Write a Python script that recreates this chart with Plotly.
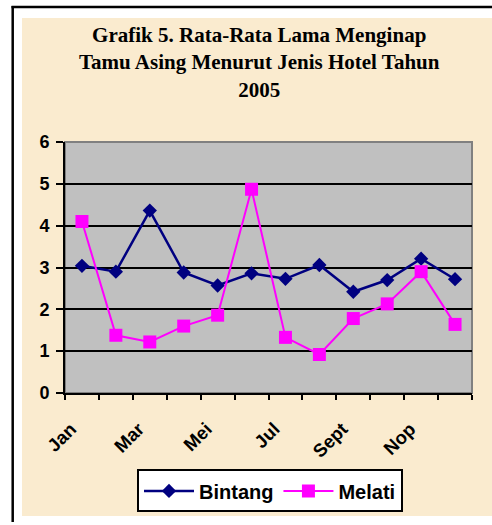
import plotly.graph_objects as go

months = ["Jan", "Feb", "Mar", "Apr", "Mei", "Jun", "Jul", "Agust", "Sept", "Okt", "Nop", "Des"]
bintang = [3.04, 2.90, 4.36, 2.88, 2.57, 2.86, 2.73, 3.06, 2.42, 2.70, 3.21, 2.72]
melati = [4.10, 1.38, 1.22, 1.60, 1.86, 4.87, 1.33, 0.92, 1.78, 2.13, 2.90, 1.64]
yticks = [0, 1, 2, 3, 4, 5, 6]
title_text = "Grafik 5. Rata-Rata Lama Menginap<br>Tamu Asing Menurut Jenis Hotel Tahun<br>2005"

W, H = 492, 525
L, R, T, B = 65, 472, 142, 395  # plot area in pixels
pw, ph = R - L, B - T

def px(x):
    return (x - L) / pw

def py(y):
    return (B - y) / ph

fig = go.Figure()
fig.add_trace(go.Scatter(
    x=months, y=bintang, name="Bintang", mode="lines+markers",
    line=dict(color="#000080", width=2.5),
    marker=dict(symbol="diamond", size=11, color="#000080", line=dict(width=0)),
))
fig.add_trace(go.Scatter(
    x=months, y=melati, name="Melati", mode="lines+markers",
    line=dict(color="#FF00FF", width=2),
    marker=dict(symbol="square", size=13, color="#FF00FF", line=dict(width=0)),
))

shapes = [
    dict(type="rect", xref="paper", yref="paper", x0=px(22), x1=px(492), y0=py(519), y1=py(17),
         fillcolor="#FAEBCF", line=dict(width=0), layer="below"),
    dict(type="line", xref="paper", yref="paper", x0=px(12.7), x1=px(12.7), y0=py(525), y1=py(4.8),
         line=dict(color="black", width=2.5), layer="below"),
    dict(type="line", xref="paper", yref="paper", x0=px(11.5), x1=px(492), y0=py(6), y1=py(6),
         line=dict(color="black", width=2.5), layer="below"),
    dict(type="rect", xref="paper", yref="paper", x0=0, x1=1, y0=0, y1=1,
         fillcolor="#C0C0C0", line=dict(color="#808080", width=2), layer="below"),
]

fig.update_layout(
    width=W, height=H,
    margin=dict(l=L, r=W - R, t=T, b=H - B, pad=0),
    paper_bgcolor="white",
    plot_bgcolor="rgba(0,0,0,0)",
    shapes=shapes,
    showlegend=True,
    legend=dict(
        orientation="h", x=px(270), xanchor="center", y=py(472), yanchor="top",
        bgcolor="white", bordercolor="black", borderwidth=2,
        font=dict(family="Arial, Liberation Sans", size=20, color="black", weight="bold"),
        itemwidth=50,
    ),
    annotations=[dict(
        text=title_text, xref="paper", yref="paper", x=px(259), y=py(20),
        xanchor="center", yanchor="top", showarrow=False,
        font=dict(family="Times New Roman, Liberation Serif", size=21, color="black", weight="bold"),
    )],
)

fig.update_xaxes(
    type="category", categoryorder="array", categoryarray=months,
    tickmode="array", tickvals=months,
    ticktext=[m if i % 2 == 0 else "" for i, m in enumerate(months)],
    tickson="boundaries", ticks="outside", ticklen=5, tickwidth=2, tickcolor="black",
    tickangle=-45, ticklabelstandoff=16, ticklabelshift=-11,
    tickfont=dict(family="Arial, Liberation Sans", size=18.5, color="black", weight="bold"),
    showline=True, linecolor="black", linewidth=2, showgrid=False,
    range=[-0.5, 11.5], zeroline=False,
)
fig.update_yaxes(
    range=[0, 6], tickmode="array", tickvals=yticks,
    ticks="outside", ticklen=7, tickwidth=2, tickcolor="black", ticklabelstandoff=3,
    tickfont=dict(family="Arial, Liberation Sans", size=18, color="black", weight="bold"),
    showline=True, linecolor="black", linewidth=2,
    showgrid=True, gridcolor="black", gridwidth=2, zeroline=False,
)

fig.write_html(
    "out.html", config={"displayModeBar": False},
    post_script=(
        "document.documentElement.style.overflow='hidden';"
        "document.body.style.margin='0';document.body.style.overflow='hidden';"
    ),
)
